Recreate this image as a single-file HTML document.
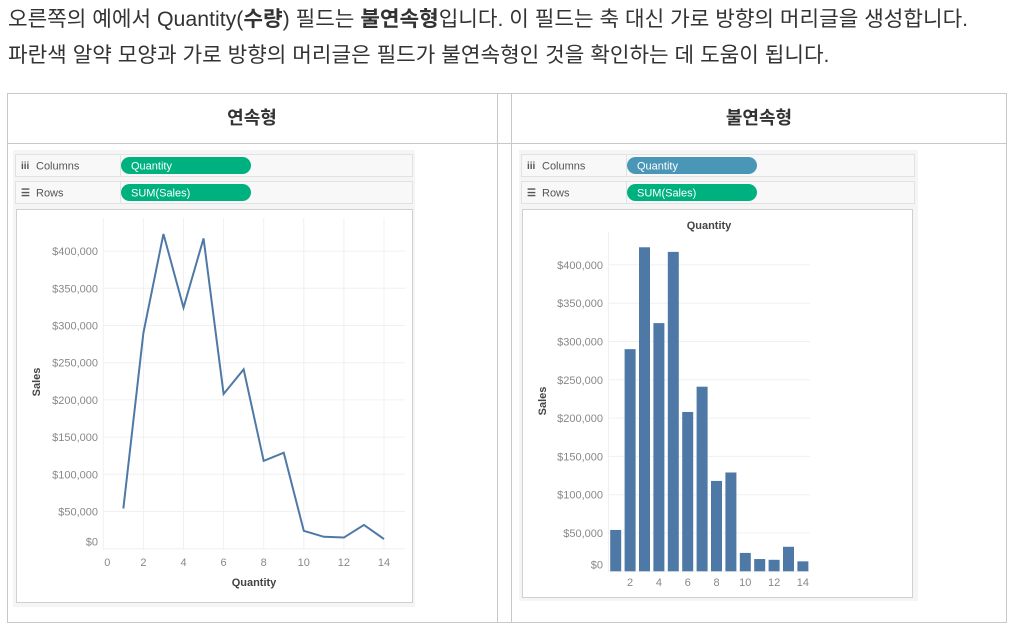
<!DOCTYPE html>
<html><head><meta charset="utf-8"><style>
body{margin:0;background:#fff;width:1011px;height:627px;overflow:hidden;font-family:"Liberation Sans","Noto Sans CJK KR",sans-serif}
.t{position:absolute;left:8px;font-size:21.3px;line-height:30px;color:#333;white-space:nowrap;font-family:"Liberation Sans","Noto Sans CJK KR",sans-serif}
svg{position:absolute;left:0;top:0}
</style></head><body>
<div class="t" style="top:4px">오른쪽의 예에서 Quantity(<b>수량</b>) 필드는 <b>불연속형</b>입니다. 이 필드는 축 대신 가로 방향의 머리글을 생성합니다.</div>
<div class="t" style="top:40px">파란색 알약 모양과 가로 방향의 머리글은 필드가 불연속형인 것을 확인하는 데 도움이 됩니다.</div>
<svg id="s" width="1011" height="627" font-family="Liberation Sans, Noto Sans CJK KR, sans-serif">
<g fill="none" stroke="#c8c8c8">
<rect x="7.5" y="93.5" width="999" height="529"/>
<line x1="7" y1="143.5" x2="1007" y2="143.5"/>
<line x1="497.5" y1="93" x2="497.5" y2="623"/>
<line x1="511.5" y1="93" x2="511.5" y2="623"/>
</g>
<text x="252" y="124" text-anchor="middle" font-size="18" font-weight="bold" fill="#333">연속형</text>
<text x="759" y="124" text-anchor="middle" font-size="18" font-weight="bold" fill="#333">불연속형</text>
<g id="left"></g><g id="right"></g>
</svg>
<script>
const quantities=[1,2,3,4,5,6,7,8,9,10,11,12,13,14];
const sales=[54000,290000,423000,324000,417000,208000,241000,118000,129000,24000,16000,15000,32000,13000];
const yTicks=[0,50000,100000,150000,200000,250000,300000,350000,400000];
const xTicksLine=[0,2,4,6,8,10,12,14];
const xTicksBar=[2,4,6,8,10,12,14];
const NS='http://www.w3.org/2000/svg';
function mk(p,tag,a,txt){const e=document.createElementNS(NS,tag);for(const k in a)e.setAttribute(k,a[k]);if(txt!==undefined)e.textContent=txt;p.appendChild(e);return e;}
function fmt(v){return '$'+v.toLocaleString('en-US');}
function shelves(g,x0,w,colColor){
  [[154,'Columns','Quantity',colColor],[181,'Rows','SUM(Sales)','#00b180']].forEach(([y,lab,pill,c])=>{
    const r=mk(g,'rect',{x:x0+0.5,y:y+0.5,width:w,height:22,fill:'#f8f8f8',stroke:'#e2e2e2'});
    
    
    mk(g,'line',{x1:x0+105.5,y1:y,x2:x0+105.5,y2:y+23,stroke:'#e2e2e2'});
    const ic=mk(g,'text',{x:x0+6,y:y+15,'font-size':10,fill:'#555','font-weight':'bold'},lab==='Columns'?'iii':'☰');
    
    
    const lt=mk(g,'text',{x:x0+21,y:y+15.5,'font-size':11,fill:'#555'},lab);
    
    
    const p=mk(g,'rect',{x:x0+106,y:y+3,width:130,height:17,rx:8.5,fill:c});
    
    
    const pt=mk(g,'text',{x:x0+116,y:y+15.5,'font-size':11,fill:'#fff'},pill);
    
    
  });
}
(function(){
  const g=document.getElementById('left');
  mk(g,'rect',{x:13,y:150,width:402,height:457,fill:'#f5f5f5'});
  shelves(g,15,397,'#00b180');
  const box=mk(g,'rect',{x:16.5,y:209.5,width:396,height:393,fill:'#fff',stroke:'#d0d0d0'});
  
  
  const X=v=>103.3+v*20.05, Y=v=>548.7-v/50000*37.2;
  for(let v=0;v<=14;v+=2)mk(g,'line',{x1:X(v),y1:218,x2:X(v),y2:550,stroke:'#f0f0f0'});
  yTicks.forEach(v=>{mk(g,'line',{x1:103,y1:Y(v),x2:405,y2:Y(v),stroke:'#f0f0f0'});
    const t=mk(g,'text',{x:98,y:Y(v)+4-(v===0?7:0),'text-anchor':'end','font-size':11,fill:'#888'},fmt(v));
    
    });
  xTicksLine.forEach(v=>{const t=mk(g,'text',{x:X(v)+(v===0?4:0),y:566,'text-anchor':'middle','font-size':11,fill:'#888'},v);
    
    });
  const pl=mk(g,'polyline',{points:quantities.map((q,i)=>X(q)+','+Y(sales[i])).join(' '),fill:'none',stroke:'#4e79a7','stroke-width':2,'stroke-linejoin':'miter'});
  
  
  const xt=mk(g,'text',{x:254,y:586,'text-anchor':'middle','font-size':11,'font-weight':'bold',fill:'#444'},'Quantity');
  
  
  const yt=mk(g,'text',{x:0,y:0,transform:'translate(40,382) rotate(-90)','text-anchor':'middle','font-size':11,'font-weight':'bold',fill:'#444'},'Sales');
  
  
})();
(function(){
  const g=document.getElementById('right');
  mk(g,'rect',{x:519,y:150,width:399,height:451,fill:'#f5f5f5'});
  shelves(g,521,393,'#4a96b6');
  const box=mk(g,'rect',{x:522.5,y:209.5,width:390,height:388,fill:'#fff',stroke:'#d0d0d0'});
  
  
  const X=q=>615.7+(q-1)*14.4, Y=v=>571.3-v/50000*38.3;
  yTicks.forEach(v=>{mk(g,'line',{x1:609,y1:Y(v),x2:810,y2:Y(v),stroke:'#f0f0f0'});
    const t=mk(g,'text',{x:603,y:Y(v)+4-(v===0?7:0),'text-anchor':'end','font-size':11,fill:'#888'},fmt(v));
    
    });
  mk(g,'line',{x1:608.5,y1:232,x2:608.5,y2:572,stroke:'#f0f0f0'});
  quantities.forEach((q,i)=>{const b=mk(g,'rect',{x:X(q)-5.5,y:Y(sales[i]),width:11,height:571.3-Y(sales[i]),fill:'#4e79a7'});
    
    });
  xTicksBar.forEach(v=>{const t=mk(g,'text',{x:X(v),y:586,'text-anchor':'middle','font-size':11,fill:'#888'},v);
    
    });
  const xt=mk(g,'text',{x:709,y:229,'text-anchor':'middle','font-size':11,'font-weight':'bold',fill:'#444'},'Quantity');
  
  
  const yt=mk(g,'text',{x:0,y:0,transform:'translate(546,401) rotate(-90)','text-anchor':'middle','font-size':11,'font-weight':'bold',fill:'#444'},'Sales');
  
  
})();
</script>
</body></html>
